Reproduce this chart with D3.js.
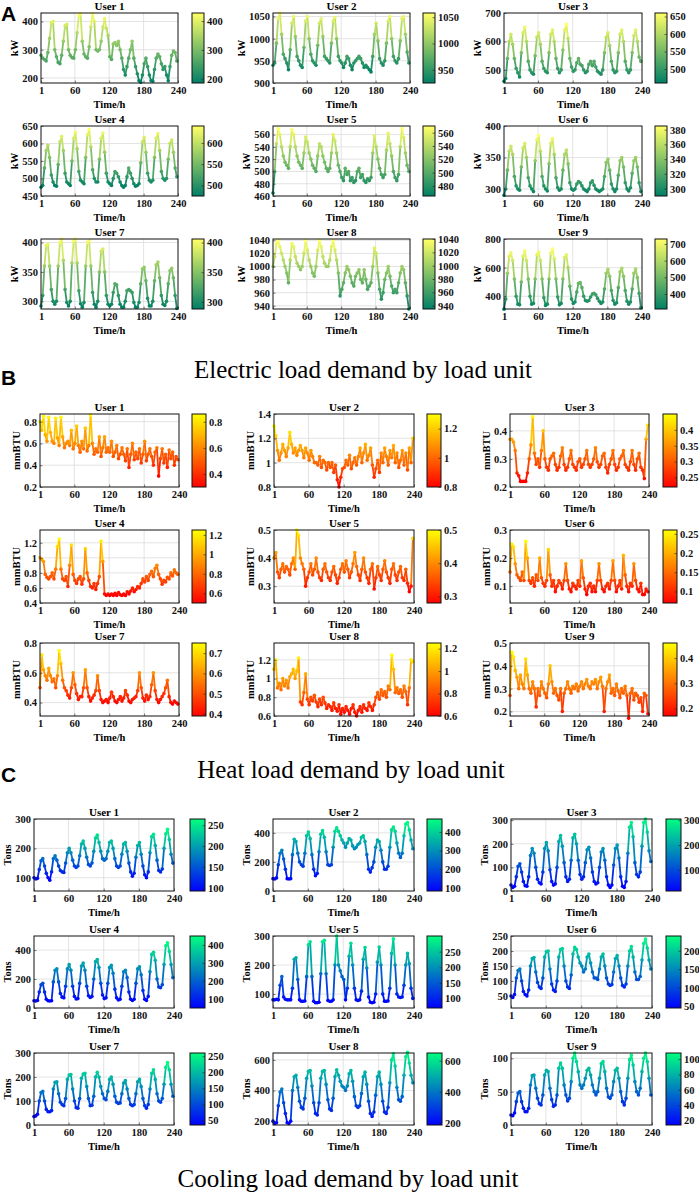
<!DOCTYPE html>
<html>
<head>
<meta charset="utf-8">
<script src="https://cdn.jsdelivr.net/npm/d3@7/dist/d3.min.js"></script>
<style>
  body { margin: 0; background: #fff; }
  svg text { font-family: "Liberation Serif", "Times New Roman", serif; }
  svg text.letter { font-family: "Liberation Sans", Arial, sans-serif; }
</style>
</head>
<body>
<svg id="fig" width="699" height="1194"></svg>
<script>
'use strict';

// sample hours (every 3 h over the 10-day horizon)
const hours = d3.range(1, 240, 3);
const xTicks = [1, 60, 120, 180, 240];
const users = ['User 1', 'User 2', 'User 3', 'User 4', 'User 5', 'User 6', 'User 7', 'User 8', 'User 9'];
const letters = ['A', 'B', 'C'];
const captions = [
  'Electric load demand by load unit',
  'Heat load demand by load unit',
  'Cooling load demand by load unit',
];

// ---- electric load, kW ----
const elecU1 = [
  280, 270, 265, 260, 290, 340, 395, 400, 300, 275, 255, 250, 280, 330, 385, 390,
  300, 280, 272, 270, 300, 360, 420, 428, 330, 285, 275, 270, 310, 380, 428, 400,
  300, 295, 300, 330, 380, 410, 375, 350, 275, 265, 320, 325, 315, 330, 300, 270,
  230, 210, 240, 270, 300, 330, 270, 240, 215, 190, 185, 210, 250, 270, 240, 210,
  190, 188, 230, 270, 285, 275, 250, 230, 240, 210, 190, 240, 280, 295, 290, 260];
const elecU2 = [
  940, 945, 990, 1045, 1058, 1010, 965, 955, 945, 930, 975, 1035, 1050, 1005, 960, 950,
  940, 935, 980, 1040, 1050, 1000, 965, 950, 945, 940, 985, 1035, 1045, 1005, 960, 955,
  950, 945, 990, 1040, 1048, 1000, 960, 950, 945, 935, 945, 960, 955, 940, 930, 945,
  950, 955, 960, 955, 945, 935, 940, 935, 930, 925, 960, 1010, 1035, 995, 955, 945,
  940, 950, 990, 1040, 1050, 1000, 960, 950, 945, 955, 995, 1045, 1050, 1010, 970, 945];
const elecU3 = [
  460, 470, 540, 600, 625, 590, 540, 505, 490, 475, 560, 630, 650, 600, 530, 500,
  490, 485, 550, 615, 630, 590, 530, 505, 495, 490, 560, 625, 640, 600, 540, 505,
  490, 500, 570, 640, 660, 610, 540, 510, 495, 500, 525, 540, 520, 515, 500, 490,
  495, 520, 530, 515, 530, 510, 495, 490, 485, 500, 560, 615, 630, 585, 530, 500,
  490, 495, 560, 625, 640, 600, 530, 500, 490, 500, 560, 620, 640, 600, 545, 530];
const elecU4 = [
  475, 480, 530, 580, 595, 560, 510, 490, 480, 478, 540, 605, 620, 580, 515, 490,
  485, 480, 550, 615, 632, 585, 520, 495, 490, 485, 560, 625, 640, 590, 525, 500,
  490, 490, 555, 615, 630, 575, 515, 490, 485, 480, 500, 520, 515, 505, 490, 480,
  475, 480, 505, 530, 515, 500, 485, 478, 480, 485, 545, 605, 618, 575, 515, 495,
  490, 495, 560, 615, 628, 580, 520, 500, 495, 500, 555, 600, 610, 575, 530, 505];
const elecU5 = [
  465, 500, 545, 570, 560, 540, 525, 515, 510, 505, 540, 568, 560, 540, 525, 515,
  510, 505, 530, 556, 548, 530, 520, 510, 505, 500, 525, 545, 540, 525, 515, 505,
  500, 505, 530, 560, 550, 530, 510, 500, 490, 485, 505, 495, 500, 485, 490, 482,
  485, 500, 505, 490, 495, 485, 482, 488, 485, 490, 530, 558, 540, 520, 505, 495,
  490, 495, 535, 562, 545, 525, 500, 490, 485, 495, 540, 570, 555, 530, 510, 500];
const elecU6 = [
  290, 300, 330, 360, 368, 355, 320, 305, 300, 298, 335, 365, 372, 350, 318, 305,
  300, 296, 345, 378, 385, 360, 320, 305, 300, 297, 340, 372, 380, 355, 318, 302,
  298, 300, 330, 355, 362, 340, 310, 300, 298, 300, 308, 312, 310, 305, 300, 298,
  296, 300, 310, 313, 306, 300, 298, 296, 298, 300, 320, 342, 347, 330, 308, 300,
  296, 300, 322, 345, 350, 335, 310, 300, 297, 302, 325, 345, 350, 335, 310, 296];
const elecU7 = [
  292, 310, 360, 395, 397, 360, 320, 300, 295, 300, 360, 400, 406, 370, 320, 298,
  292, 300, 365, 403, 406, 365, 318, 296, 290, 298, 360, 400, 403, 360, 315, 295,
  290, 300, 350, 385, 389, 350, 310, 295, 292, 295, 315, 330, 328, 310, 295, 290,
  290, 300, 318, 320, 318, 315, 298, 290, 290, 298, 330, 355, 358, 335, 305, 292,
  292, 300, 335, 362, 367, 340, 310, 295, 293, 300, 330, 352, 356, 340, 310, 288];
const elecU8 = [
  1000, 1015, 1035, 1040, 1030, 1020, 1010, 1000, 990, 975, 1010, 1035, 1030, 1015, 1005, 1000,
  995, 1000, 1020, 1040, 1025, 1010, 1000, 990, 985, 1000, 1025, 1040, 1030, 1015, 1005, 1000,
  1000, 1010, 1030, 1040, 1025, 1010, 990, 955, 965, 975, 990, 1000, 995, 985, 975, 970,
  985, 990, 995, 980, 975, 995, 980, 965, 970, 975, 1000, 1028, 1020, 990, 965, 950,
  960, 980, 990, 1000, 985, 970, 960, 965, 960, 975, 990, 1000, 995, 975, 955, 935];
const elecU9 = [
  310, 380, 560, 680, 704, 650, 520, 400, 345, 340, 500, 680, 716, 650, 520, 400,
  345, 350, 520, 690, 708, 650, 520, 390, 335, 345, 520, 700, 730, 660, 520, 395,
  340, 350, 520, 670, 690, 600, 470, 380, 350, 360, 430, 490, 495, 460, 400, 370,
  365, 370, 395, 415, 420, 410, 385, 365, 350, 360, 450, 560, 588, 540, 440, 370,
  345, 355, 460, 570, 595, 540, 440, 365, 345, 360, 450, 560, 590, 530, 420, 320];

const elecYDomain = [[182, 430], [900, 1058], [454, 700], [450, 650], [460, 574],
  [289, 400], [287, 406], [935, 1042], [311, 800]];
const elecYTicks = [[200, 300, 400], [900, 950, 1000, 1050], [500, 600, 700],
  [450, 500, 550, 600, 650], [460, 480, 500, 520, 540, 560], [300, 350, 400],
  [300, 350, 400], [940, 960, 980, 1000, 1020, 1040], [400, 600, 800]];
const elecCTicks = [[200, 300, 400], [950, 1000, 1050], [500, 550, 600, 650],
  [500, 550, 600], [480, 500, 520, 540, 560], [300, 320, 340, 360, 380],
  [300, 350, 400], [940, 960, 980, 1000, 1020, 1040], [400, 500, 600, 700]];

// ---- heat load, mmBTU ----
const heatU1 = [
  0.80, 0.72, 0.85, 0.68, 0.62, 0.84, 0.70, 0.62, 0.60, 0.83, 0.65, 0.58, 0.84, 0.66, 0.56, 0.60,
  0.62, 0.58, 0.72, 0.55, 0.60, 0.76, 0.58, 0.52, 0.62, 0.55, 0.74, 0.53, 0.58, 0.86, 0.60, 0.50,
  0.55, 0.52, 0.66, 0.48, 0.56, 0.66, 0.52, 0.56, 0.52, 0.62, 0.48, 0.52, 0.58, 0.46, 0.50, 0.56,
  0.50, 0.44, 0.55, 0.38, 0.50, 0.60, 0.45, 0.52, 0.46, 0.55, 0.42, 0.50, 0.62, 0.44, 0.50, 0.55,
  0.48, 0.40, 0.52, 0.56, 0.30, 0.46, 0.55, 0.42, 0.50, 0.38, 0.54, 0.46, 0.52, 0.40, 0.48, 0.45];
const heatU2 = [
  1.30, 1.22, 1.10, 1.02, 1.08, 1.15, 1.10, 1.05, 1.12, 1.25, 1.15, 1.08, 1.12, 1.06, 1.10, 1.14,
  1.10, 1.04, 1.12, 1.08, 1.02, 1.10, 1.05, 1.00, 1.00, 0.98, 1.05, 0.96, 1.02, 1.00, 0.94, 1.00,
  0.96, 1.00, 0.92, 0.98, 0.86, 0.80, 0.88, 0.95, 0.96, 1.02, 0.98, 1.06, 0.95, 1.00, 1.04, 0.98,
  1.05, 1.12, 1.00, 1.08, 1.15, 1.02, 1.06, 1.12, 0.98, 0.88, 0.95, 1.02, 0.92, 1.08, 1.00, 1.12,
  1.05, 0.98, 1.10, 1.04, 1.14, 1.00, 1.08, 0.96, 1.02, 1.10, 0.98, 1.08, 0.94, 1.12, 1.00, 1.20];
const heatU3 = [
  0.37, 0.37, 0.36, 0.33, 0.25, 0.24, 0.22, 0.22, 0.22, 0.22, 0.25, 0.30, 0.35, 0.45, 0.32, 0.28,
  0.30, 0.27, 0.33, 0.40, 0.30, 0.27, 0.26, 0.30, 0.31, 0.32, 0.28, 0.26, 0.27, 0.31, 0.34, 0.28,
  0.26, 0.27, 0.30, 0.33, 0.28, 0.27, 0.26, 0.29, 0.30, 0.27, 0.28, 0.30, 0.33, 0.28, 0.27, 0.28,
  0.30, 0.34, 0.29, 0.27, 0.28, 0.31, 0.32, 0.27, 0.25, 0.28, 0.30, 0.33, 0.28, 0.26, 0.27, 0.30,
  0.31, 0.33, 0.28, 0.27, 0.26, 0.29, 0.33, 0.28, 0.26, 0.30, 0.32, 0.27, 0.26, 0.23, 0.37, 0.42];
const heatU4 = [
  1.00, 0.98, 0.95, 0.78, 0.74, 0.72, 0.75, 0.80, 0.72, 0.85, 1.15, 1.25, 0.85, 0.72, 0.70, 0.75,
  0.62, 0.90, 1.17, 0.78, 0.70, 0.66, 0.72, 0.75, 0.65, 0.72, 1.12, 0.80, 0.70, 0.62, 0.60, 0.66,
  0.58, 0.66, 0.75, 1.22, 0.95, 0.52, 0.50, 0.52, 0.50, 0.52, 0.50, 0.53, 0.50, 0.54, 0.51, 0.50,
  0.52, 0.50, 0.55, 0.52, 0.56, 0.60, 0.55, 0.58, 0.62, 0.60, 0.66, 0.72, 0.68, 0.75, 0.70, 0.78,
  0.82, 0.75, 0.86, 0.90, 0.78, 0.72, 0.65, 0.70, 0.68, 0.74, 0.72, 0.80, 0.76, 0.84, 0.80, 0.78];
const heatU5 = [
  0.40, 0.42, 0.35, 0.33, 0.36, 0.38, 0.35, 0.37, 0.36, 0.34, 0.38, 0.40, 0.36, 0.50, 0.48, 0.40,
  0.38, 0.36, 0.30, 0.33, 0.35, 0.38, 0.34, 0.36, 0.40, 0.35, 0.33, 0.32, 0.36, 0.38, 0.35, 0.33,
  0.32, 0.35, 0.37, 0.34, 0.31, 0.33, 0.36, 0.38, 0.35, 0.39, 0.36, 0.33, 0.35, 0.38, 0.42, 0.37,
  0.34, 0.32, 0.36, 0.40, 0.35, 0.33, 0.31, 0.36, 0.38, 0.29, 0.33, 0.37, 0.34, 0.32, 0.36, 0.39,
  0.35, 0.33, 0.31, 0.36, 0.38, 0.34, 0.32, 0.35, 0.37, 0.33, 0.32, 0.36, 0.31, 0.28, 0.30, 0.47];
const heatU6 = [
  0.15, 0.25, 0.24, 0.18, 0.14, 0.13, 0.12, 0.15, 0.12, 0.26, 0.20, 0.12, 0.11, 0.13, 0.10, 0.14,
  0.12, 0.20, 0.13, 0.11, 0.10, 0.12, 0.23, 0.14, 0.10, 0.12, 0.08, 0.10, 0.12, 0.11, 0.09, 0.12,
  0.18, 0.12, 0.09, 0.08, 0.11, 0.10, 0.09, 0.12, 0.10, 0.19, 0.13, 0.09, 0.07, 0.10, 0.11, 0.08,
  0.10, 0.08, 0.12, 0.18, 0.12, 0.09, 0.08, 0.10, 0.11, 0.09, 0.12, 0.19, 0.12, 0.08, 0.10, 0.12,
  0.09, 0.21, 0.14, 0.10, 0.08, 0.11, 0.10, 0.18, 0.12, 0.09, 0.08, 0.11, 0.07, 0.07, 0.09, 0.08];
const heatU7 = [
  0.50, 0.72, 0.62, 0.58, 0.55, 0.63, 0.58, 0.54, 0.56, 0.50, 0.58, 0.75, 0.66, 0.55, 0.50, 0.48,
  0.45, 0.43, 0.50, 0.60, 0.52, 0.46, 0.42, 0.44, 0.44, 0.50, 0.62, 0.50, 0.44, 0.41, 0.43, 0.45,
  0.48, 0.58, 0.48, 0.42, 0.40, 0.41, 0.42, 0.40, 0.43, 0.47, 0.44, 0.41, 0.40, 0.42, 0.44, 0.41,
  0.43, 0.48, 0.45, 0.41, 0.40, 0.42, 0.43, 0.44, 0.48, 0.60, 0.50, 0.43, 0.41, 0.45, 0.42, 0.44,
  0.52, 0.60, 0.48, 0.42, 0.40, 0.42, 0.44, 0.46, 0.50, 0.55, 0.44, 0.40, 0.39, 0.41, 0.40, 0.39];
const heatU8 = [
  1.10, 1.20, 0.90, 0.95, 0.88, 1.00, 0.92, 0.98, 0.90, 1.02, 1.05, 1.10, 1.00, 1.08, 1.22, 0.75,
  0.72, 0.85, 1.05, 0.78, 0.72, 0.80, 0.76, 0.82, 0.75, 0.70, 0.78, 0.72, 0.80, 0.74, 0.68, 0.72,
  0.70, 0.66, 0.74, 0.68, 0.65, 0.72, 0.62, 0.68, 0.64, 0.70, 0.66, 0.62, 0.68, 0.72, 0.64, 0.60,
  0.66, 0.70, 0.64, 0.72, 0.68, 0.66, 0.74, 0.70, 0.66, 0.72, 0.80, 0.85, 0.78, 0.88, 0.82, 0.86,
  0.80, 0.92, 0.88, 1.25, 1.10, 0.85, 0.90, 0.84, 0.88, 0.80, 0.92, 0.86, 0.72, 0.90, 1.20, 1.18];
const heatU9 = [
  0.27, 0.46, 0.44, 0.38, 0.35, 0.30, 0.36, 0.32, 0.30, 0.43, 0.36, 0.30, 0.28, 0.33, 0.30, 0.22,
  0.30, 0.27, 0.33, 0.30, 0.28, 0.26, 0.32, 0.40, 0.33, 0.28, 0.30, 0.27, 0.25, 0.30, 0.20, 0.28,
  0.30, 0.33, 0.30, 0.28, 0.31, 0.30, 0.32, 0.29, 0.31, 0.33, 0.30, 0.32, 0.34, 0.31, 0.30, 0.33,
  0.32, 0.34, 0.30, 0.33, 0.35, 0.31, 0.20, 0.30, 0.33, 0.36, 0.28, 0.30, 0.27, 0.32, 0.29, 0.26,
  0.30, 0.28, 0.31, 0.27, 0.17, 0.28, 0.30, 0.25, 0.28, 0.27, 0.24, 0.26, 0.20, 0.28, 0.27, 0.19];

const heatYDomain = [[0.2, 0.87], [0.8, 1.4], [0.2, 0.46], [0.4, 1.37], [0.24, 0.5],
  [0.04, 0.3], [0.31, 0.8], [0.6, 1.38], [0.18, 0.5]];
const heatYTicks = [[0.2, 0.4, 0.6, 0.8], [0.8, 1, 1.2, 1.4], [0.2, 0.3, 0.4],
  [0.4, 0.6, 0.8, 1, 1.2], [0.3, 0.4, 0.5], [0.1, 0.2, 0.3], [0.4, 0.6, 0.8],
  [0.6, 0.8, 1, 1.2], [0.2, 0.3, 0.4, 0.5]];
const heatCTicks = [[0.4, 0.6, 0.8], [0.8, 1, 1.2], [0.25, 0.3, 0.35, 0.4],
  [0.6, 0.8, 1, 1.2], [0.3, 0.4, 0.5], [0.1, 0.15, 0.2, 0.25], [0.4, 0.5, 0.6, 0.7],
  [0.6, 0.8, 1, 1.2], [0.2, 0.3, 0.4]];

// ---- cooling load, Tons ----
const coolU1 = [
  100, 96, 98, 128, 158, 165, 140, 115, 100, 92, 120, 165, 175, 160, 140, 125,
  120, 118, 150, 185, 200, 185, 160, 140, 135, 140, 175, 215, 225, 200, 170, 145,
  140, 150, 190, 235, 245, 220, 190, 165, 160, 165, 190, 220, 225, 200, 165, 140,
  135, 140, 180, 215, 220, 190, 150, 120, 105, 115, 170, 210, 220, 180, 140, 110,
  100, 120, 185, 240, 248, 210, 160, 125, 120, 130, 200, 250, 265, 230, 180, 150];
const coolU2 = [
  85, 82, 90, 180, 260, 280, 220, 150, 85, 82, 85, 250, 355, 340, 260, 200,
  180, 170, 260, 380, 405, 360, 250, 150, 105, 120, 270, 390, 415, 370, 270, 180,
  175, 180, 300, 410, 435, 410, 380, 350, 330, 300, 330, 360, 350, 310, 290, 300,
  320, 330, 370, 380, 340, 250, 150, 130, 160, 200, 300, 350, 340, 280, 200, 150,
  150, 170, 300, 420, 440, 410, 330, 260, 230, 260, 380, 460, 470, 420, 350, 290];
const coolU3 = [
  25, 15, 20, 60, 105, 115, 80, 40, 22, 20, 60, 150, 180, 160, 100, 50,
  35, 30, 80, 180, 205, 170, 90, 40, 25, 30, 100, 210, 235, 190, 120, 60,
  40, 50, 130, 225, 240, 200, 130, 70, 50, 60, 120, 175, 185, 140, 80, 40,
  30, 35, 100, 165, 180, 130, 60, 25, 15, 25, 110, 180, 195, 140, 60, 20,
  15, 40, 160, 270, 290, 230, 120, 70, 60, 80, 190, 290, 305, 250, 170, 125];
const coolU4 = [
  50, 48, 52, 110, 160, 170, 110, 60, 50, 48, 50, 180, 260, 270, 180, 100,
  75, 70, 150, 270, 300, 260, 150, 80, 62, 65, 170, 290, 310, 260, 150, 85,
  72, 80, 200, 320, 335, 280, 170, 90, 65, 70, 170, 280, 295, 240, 130, 70,
  55, 60, 150, 250, 260, 210, 110, 60, 52, 60, 170, 270, 285, 230, 120, 60,
  52, 80, 250, 370, 385, 330, 200, 145, 140, 160, 300, 430, 450, 390, 300, 210];
const coolU5 = [
  80, 80, 82, 80, 130, 160, 90, 82, 80, 80, 80, 120, 220, 225, 150, 80,
  75, 75, 76, 160, 270, 280, 160, 75, 70, 70, 72, 170, 280, 285, 170, 78,
  75, 75, 80, 200, 300, 200, 180, 160, 150, 80, 120, 230, 275, 200, 120, 80,
  78, 80, 110, 220, 260, 190, 90, 72, 70, 72, 100, 210, 262, 200, 100, 75,
  75, 76, 120, 240, 290, 200, 100, 90, 88, 90, 130, 200, 240, 205, 120, 85];
const coolU6 = [
  50, 45, 55, 110, 135, 140, 100, 65, 55, 50, 70, 150, 175, 178, 130, 95,
  80, 75, 110, 180, 198, 200, 140, 90, 70, 65, 100, 180, 205, 208, 150, 100,
  80, 75, 120, 190, 212, 205, 180, 160, 150, 130, 140, 180, 190, 160, 130, 110,
  110, 105, 140, 180, 190, 150, 110, 90, 85, 88, 130, 175, 185, 150, 110, 85,
  80, 90, 150, 200, 215, 180, 130, 105, 105, 115, 170, 225, 240, 210, 170, 140];
const coolU7 = [
  35, 38, 45, 100, 135, 140, 100, 65, 55, 55, 60, 150, 178, 180, 130, 95,
  85, 80, 110, 190, 208, 210, 150, 100, 72, 70, 110, 195, 212, 215, 160, 110,
  80, 82, 120, 200, 220, 200, 160, 130, 110, 105, 140, 190, 200, 170, 120, 95,
  90, 92, 130, 175, 185, 150, 110, 85, 80, 85, 130, 180, 190, 160, 110, 80,
  70, 85, 150, 215, 230, 190, 130, 100, 95, 110, 170, 240, 260, 230, 170, 120];
const coolU8 = [
  200, 185, 190, 300, 390, 410, 320, 250, 190, 185, 200, 400, 490, 500, 420, 330,
  290, 280, 350, 480, 525, 530, 430, 320, 250, 240, 320, 480, 525, 530, 440, 340,
  280, 270, 350, 490, 535, 500, 460, 430, 420, 400, 430, 510, 530, 460, 360, 300,
  290, 300, 380, 490, 520, 440, 330, 250, 230, 260, 370, 490, 520, 440, 330, 260,
  250, 290, 450, 600, 640, 560, 420, 340, 330, 360, 500, 620, 650, 580, 500, 450];
const coolU9 = [
  15, 14, 18, 35, 48, 50, 35, 25, 20, 20, 25, 60, 74, 75, 55, 40,
  32, 30, 45, 75, 82, 80, 55, 38, 28, 30, 45, 85, 93, 85, 60, 45,
  36, 40, 65, 100, 108, 95, 80, 60, 55, 60, 70, 82, 85, 75, 60, 50,
  45, 50, 70, 92, 95, 80, 55, 42, 40, 45, 65, 82, 85, 70, 50, 35,
  30, 40, 70, 98, 105, 90, 65, 50, 45, 55, 80, 100, 108, 95, 70, 45];

const coolYDomain = [[55, 300], [0, 495], [0, 305], [0, 497], [52, 300],
  [10, 250], [0, 300], [175, 645], [0, 108]];
const coolYTicks = [[100, 200, 300], [0, 200, 400], [0, 100, 200, 300], [0, 200, 400],
  [100, 200, 300], [50, 100, 150, 200, 250], [0, 100, 200, 300], [200, 400, 600], [0, 50, 100]];
const coolCTicks = [[100, 150, 200, 250], [100, 200, 300, 400], [100, 200, 300],
  [100, 200, 300, 400], [100, 150, 200, 250], [50, 100, 150, 200],
  [50, 100, 150, 200, 250], [200, 400, 600], [20, 40, 60, 80, 100]];

// MATLAB-like colormaps
const summer = t => d3.rgb(255 * t, 255 * (0.5 + 0.5 * t), 102).toString();
const autumn = t => d3.rgb(255, 255 * t, 0).toString();
const winter = t => d3.rgb(0, 255 * t, 255 * (1 - 0.5 * t)).toString();

const sections = [
  {
    key: 'elec', unit: 'kW', cmap: summer,
    series: [elecU1, elecU2, elecU3, elecU4, elecU5, elecU6, elecU7, elecU8, elecU9],
    yDom: elecYDomain, yTicks: elecYTicks, cTicks: elecCTicks,
    tops: [13, 126, 239], h: 70,
    cols: [[41, 178, 192], [273, 410, 423], [504, 642, 655]], cbw: 12,
  },
  {
    key: 'heat', unit: 'mmBTU', cmap: autumn,
    series: [heatU1, heatU2, heatU3, heatU4, heatU5, heatU6, heatU7, heatU8, heatU9],
    yDom: heatYDomain, yTicks: heatYTicks, cTicks: heatCTicks,
    tops: [414, 530, 643], h: 73,
    cols: [[40, 179, 192], [274, 414, 427], [510, 649, 663]], cbw: 14,
  },
  {
    key: 'cool', unit: 'Tons', cmap: winter,
    series: [coolU1, coolU2, coolU3, coolU4, coolU5, coolU6, coolU7, coolU8, coolU9],
    yDom: coolYDomain, yTicks: coolYTicks, cTicks: coolCTicks,
    tops: [819, 936, 1053], h: 72,
    cols: [[34, 174, 190], [273, 414, 427], [511, 652, 666]], cbw: 15,
  },
];

const svg = d3.select('#fig');
const defs = svg.append('defs');

sections.forEach(sec => {
  const grad = defs.append('linearGradient')
    .attr('id', `grad-${sec.key}`)
    .attr('x1', 0).attr('y1', 1).attr('x2', 0).attr('y2', 0);
  d3.range(0, 1.0001, 0.1).forEach(t => {
    grad.append('stop').attr('offset', t).attr('stop-color', sec.cmap(t));
  });
});

function styleAxis(g) {
  g.attr('font-size', 10.5).attr('font-weight', 'bold');
  g.select('.domain').remove();
  g.selectAll('.tick line').attr('stroke', '#222').attr('stroke-width', 0.6);
  g.selectAll('.tick text').attr('fill', '#111');
}

function drawPanel(sec, i) {
  const row = Math.floor(i / 3);
  const [x0, x1, cbx] = sec.cols[i % 3];
  const y0 = sec.tops[row];
  const y1 = y0 + sec.h;
  const values = sec.series[i];
  const g = svg.append('g').attr('class', `panel ${sec.key}-${i + 1}`);

  const x = d3.scaleLinear().domain([1, 240]).range([x0, x1]);
  const y = d3.scaleLinear().domain(sec.yDom[i]).range([y1, y0]);
  const ext = d3.extent(values);
  const c = d3.scaleLinear().domain(ext).range([0, 1]).clamp(true);
  const color = v => sec.cmap(c(v));

  g.append('rect')
    .attr('x', x0).attr('y', y0).attr('width', x1 - x0).attr('height', y1 - y0)
    .attr('fill', '#fff');

  // grid
  const yT = sec.yTicks[i];
  g.append('g').selectAll('line').data(xTicks.slice(1, -1)).join('line')
    .attr('x1', d => x(d)).attr('x2', d => x(d))
    .attr('y1', y0).attr('y2', y1)
    .attr('stroke', '#dcdcdc').attr('stroke-width', 0.8);
  g.append('g').selectAll('line')
    .data(yT.filter(t => y(t) > y0 + 1 && y(t) < y1 - 1)).join('line')
    .attr('x1', x0).attr('x2', x1)
    .attr('y1', d => y(d)).attr('y2', d => y(d))
    .attr('stroke', '#dcdcdc').attr('stroke-width', 0.8);

  // coloured line + markers
  const pts = values.map((v, k) => [hours[k], v]);
  g.append('g').selectAll('line').data(d3.pairs(pts)).join('line')
    .attr('x1', d => x(d[0][0])).attr('y1', d => y(d[0][1]))
    .attr('x2', d => x(d[1][0])).attr('y2', d => y(d[1][1]))
    .attr('stroke', d => color((d[0][1] + d[1][1]) / 2))
    .attr('stroke-width', 1.8)
    .attr('stroke-linecap', 'round');
  g.append('g').selectAll('circle').data(pts).join('circle')
    .attr('cx', d => x(d[0])).attr('cy', d => y(d[1]))
    .attr('r', 1.8)
    .attr('fill', d => color(d[1]));

  // box
  g.append('rect')
    .attr('x', x0).attr('y', y0).attr('width', x1 - x0).attr('height', y1 - y0)
    .attr('fill', 'none').attr('stroke', '#111').attr('stroke-width', 1);

  // axes
  g.append('g')
    .attr('transform', `translate(0,${y1})`)
    .call(d3.axisBottom(x).tickValues(xTicks).tickSize(-2.5).tickPadding(4).tickFormat(d3.format('d')))
    .call(styleAxis);

  const ay = g.append('g')
    .attr('transform', `translate(${x0},0)`)
    .call(d3.axisLeft(y).tickValues(yT).tickSize(-2.5).tickPadding(3).tickFormat(d => String(d)))
    .call(styleAxis);

  const bb = ay.node().getBBox();
  g.append('text')
    .attr('transform', `translate(${x0 + bb.x - 4},${(y0 + y1) / 2}) rotate(-90)`)
    .attr('text-anchor', 'middle')
    .attr('font-size', 10.5)
    .attr('font-weight', 'bold')
    .text(sec.unit);

  g.append('text')
    .attr('x', (x0 + x1) / 2).attr('y', y0 - 3)
    .attr('text-anchor', 'middle')
    .attr('font-size', 11)
    .attr('font-weight', 'bold')
    .text(users[i]);

  g.append('text')
    .attr('x', (x0 + x1) / 2).attr('y', y1 + 25)
    .attr('text-anchor', 'middle')
    .attr('font-size', 10.5)
    .attr('font-weight', 'bold')
    .text('Time/h');

  // colorbar
  const cy = d3.scaleLinear().domain(ext).range([y1, y0]);
  g.append('rect')
    .attr('x', cbx).attr('y', y0).attr('width', sec.cbw).attr('height', y1 - y0)
    .attr('fill', `url(#grad-${sec.key})`)
    .attr('stroke', '#111').attr('stroke-width', 1);
  g.append('g')
    .attr('transform', `translate(${cbx + sec.cbw},0)`)
    .call(d3.axisRight(cy)
      .tickValues(sec.cTicks[i].filter(t => t >= ext[0] && t <= ext[1]))
      .tickSize(-2.5).tickPadding(3).tickFormat(d => String(d)))
    .call(styleAxis);
}

sections.forEach(sec => {
  d3.range(9).forEach(i => drawPanel(sec, i));
});

// panel letters and captions
const letterY = [21, 385, 782];
svg.selectAll('text.letter').data(letters).join('text')
  .attr('class', 'letter')
  .attr('x', 1).attr('y', (d, k) => letterY[k])
  .attr('font-weight', 'bold')
  .attr('font-size', 21)
  .text(d => d);

const captionX = [363, 351, 348];
const captionY = [378, 778, 1187];
svg.selectAll('text.caption').data(captions).join('text')
  .attr('class', 'caption')
  .attr('x', (d, k) => captionX[k]).attr('y', (d, k) => captionY[k])
  .attr('text-anchor', 'middle')
  .attr('font-size', 25)
  .text(d => d);
</script>
</body>
</html>
